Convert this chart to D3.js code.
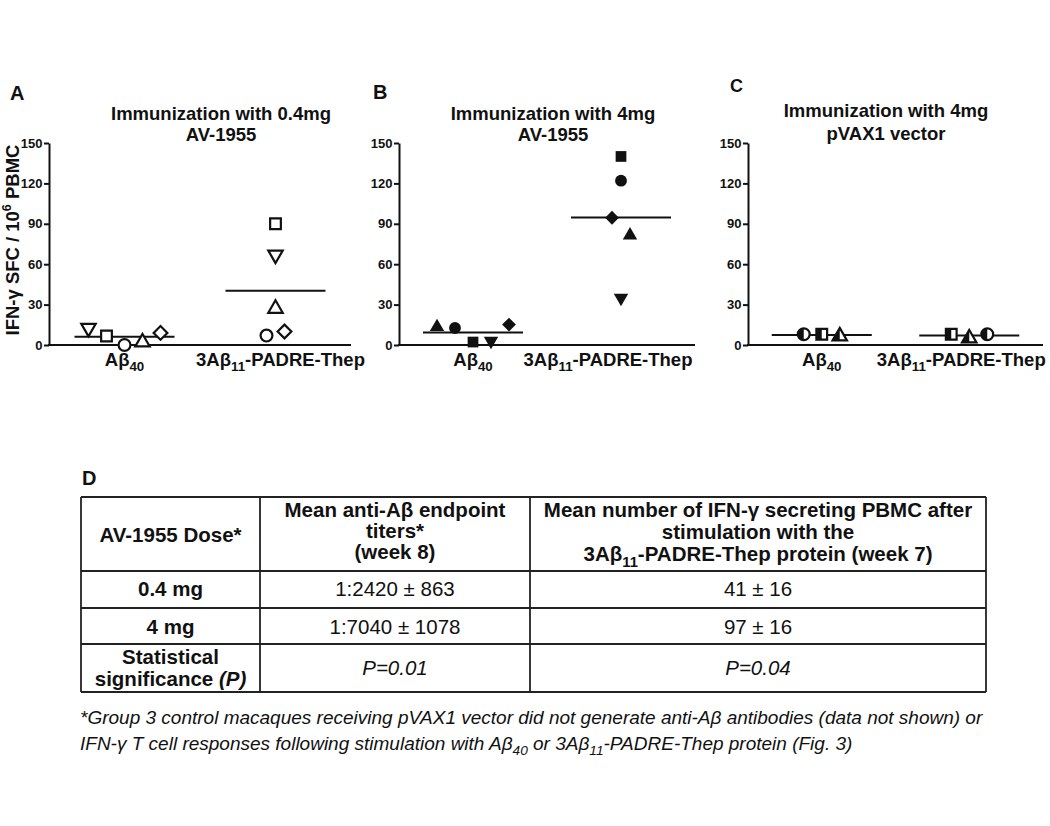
<!DOCTYPE html>
<html>
<head>
<meta charset="utf-8">
<script src="https://cdn.jsdelivr.net/npm/d3@7"></script>
<style>
  body { margin: 0; background: #fff; }
  svg text { font-family: "Liberation Sans", Arial, sans-serif; fill: #111; }
</style>
</head>
<body>
<script>
// ---- data ----
const groups = ["Ab40", "3Ab11"];
const groupLabels = ["Aβ_{40}", "3Aβ_{11}-PADRE-Thep"];
const yTicks = [0, 30, 60, 90, 120, 150];
const panelLetters = ["A", "B", "C"];
const panelTitles = [
  ["Immunization with 0.4mg", "AV-1955"],
  ["Immunization with 4mg", "AV-1955"],
  ["Immunization with 4mg", "pVAX1 vector"]
];

// one marker per animal, values in SFC / 10^6 PBMC
const markersA = ["triDown", "square", "circle", "triUp", "diamond"];
const ab40A = [12.6, 6.7, 0, 2, 9];
const padreA = [67, 90, 7, 27, 10];

const markersB = ["triUp", "circle", "square", "triDown", "diamond"];
const ab40B = [13.4, 12.6, 2.2, 3, 15.2];
const padreB = [81.5, 122, 140, 35, 94.5];

const markersC = ["circle", "square", "triUp"];
const ab40C = [8, 8, 6.5];
const padreC = [8, 8, 5];

// dodge order of each animal inside its column
const dodgeA = [[-2, -1, 0, 1, 2], [0, 0, -0.5, 0, 0.5]];
const dodgeB = [[-2, -1, 0, 1, 2], [0.5, 0, 0, 0, -0.5]];
const dodgeC = [[-1, 0, 1], [1, -1, 0]];

// table D
const tableHead = [
  ["AV-1955 Dose*"],
  ["Mean anti-Aβ endpoint", "titers*", "(week 8)"],
  ["Mean number of IFN-γ secreting PBMC after", "stimulation with the", "3Aβ_{11}-PADRE-Thep protein (week 7)"]
];
const doses = ["0.4 mg", "4 mg"];
const titers = ["1:2420 ± 863", "1:7040 ± 1078"];
const ifnMeans = ["41 ± 16", "97 ± 16"];
const pValues = ["P=0.01", "P=0.04"];
const footnote = [
  "*Group 3 control macaques receiving pVAX1 vector did not generate anti-Aβ antibodies (data not shown) or",
  "IFN-γ T cell responses following stimulation with Aβ_{40} or 3Aβ_{11}-PADRE-Thep protein (Fig. 3)"
];

// ---- layout ----
const W = 1050, H = 826;
const svg = d3.select("body").append("svg")
  .attr("width", W).attr("height", H);
svg.append("rect").attr("width", W).attr("height", H).attr("fill", "#fff");

// clip for half filled markers (left half)
svg.append("defs").append("clipPath").attr("id", "leftHalf")
  .append("rect").attr("x", -20).attr("y", -20).attr("width", 20).attr("height", 40);

// small parser: _{sub} ^{sup} ~{italic}
function richText(parent, str, x, y, size) {
  const t = parent.append("text").attr("x", x).attr("y", y).attr("font-size", size);
  const parts = str.split(/(_\{[^}]*\}|\^\{[^}]*\}|~\{[^}]*\})/).filter(p => p);
  let prev = 0;
  parts.forEach(p => {
    let txt = p, off = 0, fs = null, italic = false;
    if (p.startsWith("_{")) { txt = p.slice(2, -1); off = size * 0.28; fs = size * 0.72; }
    else if (p.startsWith("^{")) { txt = p.slice(2, -1); off = -size * 0.42; fs = size * 0.68; }
    else if (p.startsWith("~{")) { txt = p.slice(2, -1); italic = true; }
    const ts = t.append("tspan").attr("dy", off - prev).text(txt);
    if (fs) ts.attr("font-size", fs);
    if (italic) ts.attr("font-style", "italic");
    prev = off;
  });
  return t;
}

const symbolTypes = {
  square: d3.symbolSquare,
  circle: d3.symbolCircle,
  triUp: d3.symbolTriangle,
  triDown: d3.symbolTriangle,
  diamond: d3.symbolSquare
};
const symbolSizes = { square: 115, circle: 110, triUp: 90, triDown: 90, diamond: 95 };
const symbolRotate = { square: 0, circle: 0, triUp: 0, triDown: 180, diamond: 45 };

const panels = [
  { x0: 49, x1: 351, markers: markersA, values: [ab40A, padreA], dodge: dodgeA, fill: "open",
    titleX: 221, titleY: [120, 141], letter: [10, 100, 20], labelShift: [0, 5] },
  { x0: 399, x1: 695, markers: markersB, values: [ab40B, padreB], dodge: dodgeB, fill: "filled",
    titleX: 553, titleY: [120, 141], letter: [373, 99, 20], labelShift: [0, -13] },
  { x0: 748, x1: 1043, markers: markersC, values: [ab40C, padreC], dodge: dodgeC, fill: "half",
    titleX: 886, titleY: [117, 140], letter: [730, 92, 18], labelShift: [0, -8] }
];

const y = d3.scaleLinear().domain([0, 150]).range([345, 143]);
const dodgeScale = d3.scaleLinear().domain([-1, 1]).range([-18, 18]);

panels.forEach((p, i) => drawPanel(p, i));

function drawPanel(p, i) {
  const g = svg.append("g");
  const x = d3.scalePoint().domain(groups).range([p.x0, p.x1]).padding(0.5);

  // panel letter and title
  g.append("text").attr("x", p.letter[0]).attr("y", p.letter[1])
    .attr("font-size", p.letter[2]).attr("font-weight", "bold").text(panelLetters[i]);
  panelTitles[i].forEach((line, k) => {
    g.append("text").attr("x", p.titleX).attr("y", p.titleY[k])
      .attr("text-anchor", "middle").attr("font-size", 18.5).attr("font-weight", "bold")
      .text(line);
  });

  // y axis
  const yAxis = d3.axisLeft(y).tickValues(yTicks).tickSize(5).tickSizeOuter(0).tickPadding(1.5);
  const ya = g.append("g").attr("transform", "translate(" + p.x0 + ",0)").call(yAxis);
  ya.attr("font-size", 13).attr("font-family", null);
  ya.select(".domain").attr("stroke", "#111").attr("stroke-width", 2);
  ya.selectAll(".tick line").attr("stroke", "#111").attr("stroke-width", 2);
  ya.selectAll(".tick text").attr("font-weight", "bold").attr("fill", "#111");

  // x axis (baseline only)
  g.append("line").attr("x1", p.x0 - 1).attr("x2", p.x1).attr("y1", y(0)).attr("y2", y(0))
    .attr("stroke", "#111").attr("stroke-width", 2.2);
  groups.forEach((gr, k) => {
    richText(g, groupLabels[k], x(gr) + p.labelShift[k], 366, 18.5)
      .attr("text-anchor", "middle").attr("font-weight", "bold");
  });

  // mean lines
  groups.forEach((gr, k) => {
    const m = d3.mean(p.values[k]);
    g.append("line").attr("x1", x(gr) - 50).attr("x2", x(gr) + 50)
      .attr("y1", y(m)).attr("y2", y(m)).attr("stroke", "#111").attr("stroke-width", 2);
  });

  // points
  groups.forEach((gr, k) => {
    p.values[k].forEach((v, j) => {
      const mk = p.markers[j];
      const sym = d3.symbol().type(symbolTypes[mk]).size(symbolSizes[mk]);
      const cx = x(gr) + dodgeScale(p.dodge[k][j]);
      const pt = g.append("g").attr("transform", "translate(" + cx + "," + y(v) + ")");
      const inner = pt.append("g").attr("transform", "rotate(" + symbolRotate[mk] + ")");
      if (p.fill === "filled") {
        inner.append("path").attr("d", sym()).attr("fill", "#111");
      } else if (p.fill === "open") {
        inner.append("path").attr("d", sym()).attr("fill", "#fff")
          .attr("stroke", "#111").attr("stroke-width", 2.2);
      } else {
        inner.append("path").attr("d", sym()).attr("fill", "#fff")
          .attr("stroke", "#111").attr("stroke-width", 2.2);
        pt.append("g").attr("clip-path", "url(#leftHalf)")
          .append("g").attr("transform", "rotate(" + symbolRotate[mk] + ")")
          .append("path").attr("d", sym()).attr("fill", "#111");
      }
    });
  });
}

// shared y label
richText(svg, "IFN-γ SFC / 10^{6} PBMC", 0, 0, 18.5)
  .attr("transform", "translate(19,240) rotate(-90)")
  .attr("text-anchor", "middle").attr("font-weight", "bold");

// ---- table D ----
function drawTable() {
  const g = svg.append("g");
  const colX = [81, 260, 530, 986];
  const rowY = [497, 571, 608, 644, 692];
  const colMid = d3.range(3).map(c => (colX[c] + colX[c + 1]) / 2);
  const fs = 20.5;

  g.append("text").attr("x", 82).attr("y", 485).attr("font-size", 20)
    .attr("font-weight", "bold").text("D");

  rowY.forEach(ry => g.append("line").attr("x1", colX[0]).attr("x2", colX[3])
    .attr("y1", ry).attr("y2", ry).attr("stroke", "#222").attr("stroke-width", 1.8));
  colX.forEach(cx => g.append("line").attr("x1", cx).attr("x2", cx)
    .attr("y1", rowY[0]).attr("y2", rowY[4]).attr("stroke", "#222").attr("stroke-width", 1.8));

  // header
  const headBase = [[542], [517, 538, 559], [517, 539, 561]];
  tableHead.forEach((lines, c) => {
    lines.forEach((line, k) => {
      richText(g, line, colMid[c], headBase[c][k], fs)
        .attr("text-anchor", "middle").attr("font-weight", "bold");
    });
  });

  // body rows
  const bodyBase = [596, 634];
  doses.forEach((d, r) => {
    g.append("text").attr("x", colMid[0]).attr("y", bodyBase[r]).attr("text-anchor", "middle")
      .attr("font-size", fs).attr("font-weight", "bold").text(d);
    g.append("text").attr("x", colMid[1]).attr("y", bodyBase[r]).attr("text-anchor", "middle")
      .attr("font-size", fs).text(titers[r]);
    g.append("text").attr("x", colMid[2]).attr("y", bodyBase[r]).attr("text-anchor", "middle")
      .attr("font-size", fs).text(ifnMeans[r]);
  });

  // significance row
  g.append("text").attr("x", colMid[0]).attr("y", 664).attr("text-anchor", "middle")
    .attr("font-size", fs).attr("font-weight", "bold").text("Statistical");
  richText(g, "significance ~{(P)}", colMid[0], 686, fs)
    .attr("text-anchor", "middle").attr("font-weight", "bold");
  pValues.forEach((pv, c) => {
    g.append("text").attr("x", colMid[c + 1]).attr("y", 675).attr("text-anchor", "middle")
      .attr("font-size", fs).attr("font-style", "italic").text(pv);
  });

  // footnote
  footnote.forEach((line, k) => {
    richText(g, line, 80, 724 + k * 26, 19).attr("font-style", "italic");
  });
}
drawTable();
</script>
</body>
</html>
